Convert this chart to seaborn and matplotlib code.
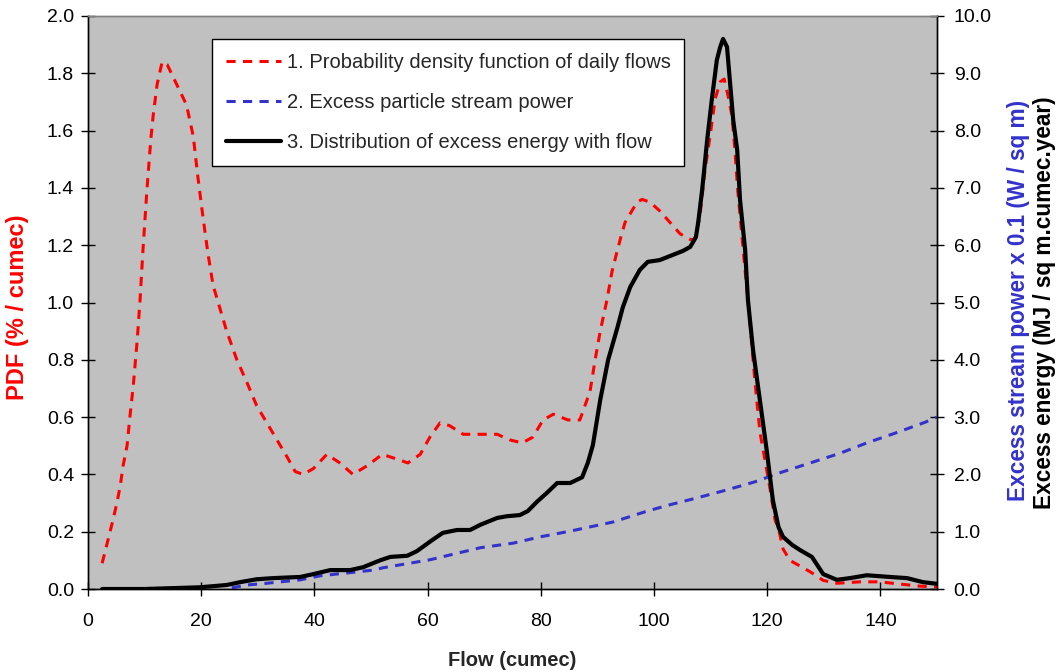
import matplotlib
matplotlib.use("Agg")
import matplotlib.pyplot as plt
import seaborn as sns
import pandas as pd

# ---------------- data ----------------
pdf_flow = [2.5, 3.9, 4.4, 5.1, 5.7, 6.2, 6.9, 7.4, 8.0, 8.7, 9.2, 9.7, 10.4, 11.1, 11.5, 12.2,
            13.1, 14.0, 15.7, 17.4, 18.6, 19.4, 20.3, 21.2, 22.1, 23.3, 24.5, 26.3, 28.1, 29.8,
            31.6, 33.4, 35.2, 36.6, 38.0, 39.8, 42.2, 44.5, 46.8, 49.3, 52.0, 55.1, 56.5, 58.7,
            60.4, 62.2, 63.9, 66.3, 69.3, 72.3, 74.6, 76.7, 78.6, 80.4, 82.2, 84.8, 86.9, 87.8,
            88.7, 89.6, 90.5, 91.7, 92.6, 93.5, 94.3, 94.9, 96.1, 97.0, 97.9, 99.3, 101.0, 102.8,
            104.6, 106.4, 107.2, 108.1, 109.0, 109.9, 110.8, 111.7, 112.4, 113.1, 113.8, 114.3,
            114.8, 115.5, 116.1, 116.6, 117.3, 117.8, 118.7, 119.6, 120.5, 121.4, 122.0, 122.8,
            124.0, 125.8, 127.6, 129.9, 132.3, 136.4, 139.9, 143.5, 147.0, 150.0]
pdf_vals = [0.09, 0.20, 0.24, 0.30, 0.36, 0.43, 0.50, 0.60, 0.71, 0.87, 1.01, 1.18, 1.39, 1.57, 1.65, 1.76,
            1.84, 1.83, 1.76, 1.69, 1.58, 1.44, 1.30, 1.17, 1.06, 0.98, 0.90, 0.80, 0.72, 0.64,
            0.58, 0.52, 0.46, 0.41, 0.40, 0.42, 0.47, 0.44, 0.40, 0.43, 0.47, 0.45, 0.44, 0.47,
            0.53, 0.58, 0.57, 0.54, 0.54, 0.54, 0.52, 0.51, 0.53, 0.59, 0.61, 0.59, 0.59, 0.64,
            0.69, 0.80, 0.90, 1.01, 1.11, 1.18, 1.24, 1.28, 1.32, 1.35, 1.36, 1.35, 1.32, 1.28,
            1.24, 1.22, 1.22, 1.30, 1.46, 1.58, 1.71, 1.77, 1.78, 1.72, 1.65, 1.53,
            1.39, 1.24, 1.11, 1.01, 0.85, 0.73, 0.55, 0.45, 0.35, 0.24, 0.21, 0.14,
            0.10, 0.08, 0.06, 0.03, 0.02, 0.025, 0.025, 0.017, 0.01, 0.007]

power_flow = [25.4, 28.1, 31.6, 37.5, 41.0, 45.8, 50.4, 52.1, 60.4, 69.3, 75.1, 79.9, 85.2, 92.8,
              98.8, 102.8, 107.6, 112.9, 117.8, 122.6, 127.6, 132.9, 137.6, 142.6, 147.9, 150.0]
power_vals = [0.02, 0.07, 0.10, 0.16, 0.23, 0.28, 0.33, 0.37, 0.51, 0.72, 0.80, 0.91, 1.01, 1.17,
              1.36, 1.47, 1.59, 1.73, 1.87, 2.04, 2.20, 2.37, 2.55, 2.72, 2.91, 3.00]

energy_flow = [2.5, 10.0, 19.8, 24.5, 26.9, 29.8, 32.7, 37.5, 39.8, 42.8, 46.3, 48.6, 51.6, 53.4,
               56.4, 58.1, 60.9, 62.7, 65.2, 67.5, 69.3, 72.3, 74.0, 76.3, 77.7, 79.3, 81.1, 82.9,
               85.2, 87.3, 88.3, 89.2, 90.5, 91.9, 93.5, 94.5, 95.8, 97.5, 98.9, 101.0, 102.8,
               105.1, 106.4, 107.4, 107.8, 108.5, 109.4, 110.2, 111.1, 111.7, 112.2, 112.9, 113.4,
               114.0, 114.7, 115.2, 116.1, 116.6, 117.5, 118.7, 119.9, 121.0, 122.0, 122.8, 124.4,
               125.8, 127.9, 129.9, 132.3, 134.6, 137.6, 141.7, 144.7, 147.5, 150.0]
energy_vals = [0.0, 0.0, 0.03, 0.07, 0.12, 0.17, 0.19, 0.21, 0.26, 0.33, 0.33, 0.38, 0.50, 0.56,
               0.58, 0.66, 0.86, 0.98, 1.03, 1.03, 1.12, 1.24, 1.27, 1.29, 1.36, 1.52, 1.68, 1.85,
               1.85, 1.95, 2.20, 2.51, 3.30, 4.00, 4.55, 4.92, 5.27, 5.57, 5.71, 5.74, 5.81,
               5.90, 5.97, 6.14, 6.39, 6.96, 7.84, 8.53, 9.23, 9.46, 9.60, 9.46, 8.88,
               8.18, 7.66, 6.79, 5.92, 5.04, 4.17, 3.30, 2.43, 1.55, 1.08, 0.91, 0.77,
               0.68, 0.56, 0.26, 0.16, 0.19, 0.24, 0.21, 0.19, 0.12, 0.09]

x_ticks = [0, 20, 40, 60, 80, 100, 120, 140]
left_ticks = [0.0, 0.2, 0.4, 0.6, 0.8, 1.0, 1.2, 1.4, 1.6, 1.8, 2.0]
right_ticks = [0.0, 1.0, 2.0, 3.0, 4.0, 5.0, 6.0, 7.0, 8.0, 9.0, 10.0]

labels = ["1. Probability density function of daily flows",
          "2. Excess particle stream power",
          "3. Distribution of excess energy with flow"]

# ---------------- style ----------------
sns.set_style("ticks")
plt.rcParams["font.family"] = ["Liberation Sans", "DejaVu Sans"]
plt.rcParams["font.size"] = 14

W, H = 1060, 672
fig = plt.figure(figsize=(W / 100, H / 100), dpi=100)
L, R, T, B = 88, 937, 16, 589
ax = fig.add_axes([L / W, 1 - B / H, (R - L) / W, (B - T) / H])
ax.set_facecolor("#C0C0C0")
ax2 = ax.twinx()
ax2.patch.set_visible(False)

RED = "#FF0000"
BLUE = "#3333CC"

df_pdf = pd.DataFrame({"flow": pdf_flow, "val": pdf_vals})
df_pow = pd.DataFrame({"flow": power_flow, "val": power_vals})
df_en = pd.DataFrame({"flow": energy_flow, "val": energy_vals})

sns.lineplot(data=df_pdf, x="flow", y="val", ax=ax, color=RED, lw=2.2, sort=False,
             estimator=None, label=labels[0], legend=False)
l_red = ax.lines[-1]
l_red.set_dashes([3.0, 2.4])

sns.lineplot(data=df_pow, x="flow", y="val", ax=ax2, color=BLUE, lw=2.2, sort=False,
             estimator=None, label=labels[1], legend=False)
l_blue = ax2.lines[-1]
l_blue.set_dashes([3.0, 2.4])

sns.lineplot(data=df_en, x="flow", y="val", ax=ax2, color="black", lw=3.0, sort=False,
             estimator=None, label=labels[2], legend=False)
l_black = ax2.lines[-1]

ax.set_xlim(0, 150)
ax.set_ylim(0, 2.0)
ax2.set_ylim(0, 10.0)
ax.set_xticks(x_ticks)
ax.set_yticks(left_ticks)
ax.set_yticklabels([f"{v:.1f}" for v in left_ticks])
ax2.set_yticks(right_ticks)
ax2.set_yticklabels([f"{v:.1f}" for v in right_ticks])
ax.set_xlabel("")
ax.set_ylabel("")
ax2.set_ylabel("")

for a in (ax, ax2):
    a.tick_params(axis="both", direction="inout", length=10, width=1, colors="black",
                  labelsize=14, pad=5)
    for s in ("left", "right", "bottom"):
        a.spines[s].set_color("black")
        a.spines[s].set_linewidth(1)
    a.spines["top"].set_color("#808080")
    a.spines["top"].set_linewidth(1)
    a.spines["top"].set_visible(True)
    a.spines["right"].set_visible(True)
ax.tick_params(axis="x", pad=12)
ax2.tick_params(axis="y", pad=7)

fig.text((L + R) / 2 / W, 1 - 660 / H, "Flow (cumec)", ha="center", va="center",
         fontsize=14.5, fontweight="bold")
fig.text(18 / W, 1 - 307 / H, "PDF (% / cumec)", rotation=90, ha="center", va="center",
         fontsize=17, fontweight="bold", color=RED)
fig.text(1019 / W, 1 - 300 / H, "Excess stream power x 0.1 (W / sq m)", rotation=90, ha="center",
         va="center", fontsize=16.3, fontweight="bold", color=BLUE)
fig.text(1045 / W, 1 - 303 / H, "Excess energy (MJ / sq m.cumec.year)", rotation=90, ha="center",
         va="center", fontsize=16.3, fontweight="bold", color="black")

leg = ax2.legend([l_red, l_blue, l_black], labels, loc="upper left",
                 bbox_to_anchor=((212 - L) / (R - L), (B - 39) / (B - T)),
                 frameon=True, fancybox=False, framealpha=1, edgecolor="black",
                 facecolor="white", fontsize=14.5, handlelength=2.75, handletextpad=0.25,
                 labelspacing=1.05, borderpad=0.7, borderaxespad=0)
leg.get_frame().set_linewidth(1)

fig.savefig("out.png", dpi=100)
